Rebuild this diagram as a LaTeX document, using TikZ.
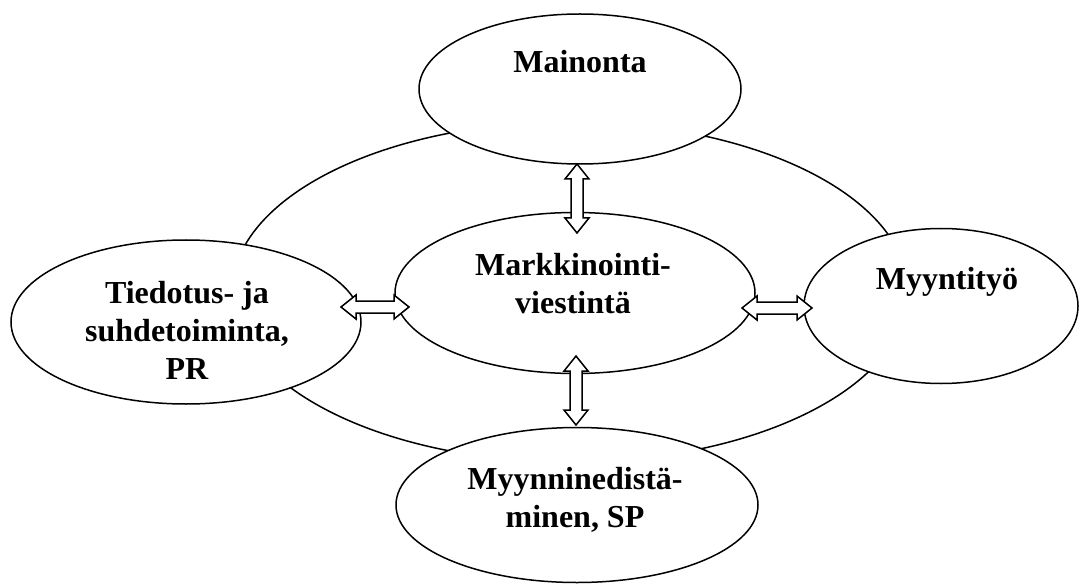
\documentclass[tikz,border=0pt]{standalone}
\usepackage{fontspec}
\setmainfont{Liberation Serif}
\usetikzlibrary{shapes.geometric,calc}
\tikzset{
  oval/.style={ellipse, draw, line width=1.5pt, fill=white, inner sep=0pt},
  lbl/.style={font=\fontsize{32}{38}\selectfont\bfseries, align=center, inner sep=0pt},
  hollow/.style={draw, line width=1.5pt, fill=white, line join=miter},
}
\newcommand\hollowarrow[2]{%
  \draw[hollow] (#1)
    -- ($(#1)!15pt!(#2)!12pt!90:(#2)$)
    -- ($(#1)!15pt!(#2)!6pt!90:(#2)$)
    -- ($(#2)!15pt!(#1)!6pt!-90:(#1)$)
    -- ($(#2)!15pt!(#1)!12pt!-90:(#1)$)
    -- (#2)
    -- ($(#2)!15pt!(#1)!12pt!90:(#1)$)
    -- ($(#2)!15pt!(#1)!6pt!90:(#1)$)
    -- ($(#1)!15pt!(#2)!6pt!-90:(#2)$)
    -- ($(#1)!15pt!(#2)!12pt!-90:(#2)$)
    -- cycle;}
\begin{document}
\begin{tikzpicture}[x=1pt,y=-1pt]
\useasboundingbox (0,0) rectangle (1083,585);
% outer ring
\node[oval, minimum width=676pt, minimum height=340pt] (ring) at (570,292) {};
% satellite and centre ellipses
\node[oval, minimum width=322pt, minimum height=150pt] (mainonta) at (580,89) {};
\node[oval, minimum width=360pt, minimum height=161pt] (centre) at (575,293) {};
\node[oval, minimum width=350pt, minimum height=164pt] (pr) at (186,322) {};
\node[oval, minimum width=274pt, minimum height=155pt] (myynti) at (941,306) {};
\node[oval, minimum width=362pt, minimum height=155pt] (sp) at (577,505) {};
% arrow end points
\coordinate (ta) at (577,164); \coordinate (tb) at (577,233);
\coordinate (ba) at (576,356); \coordinate (bb) at (576,425);
\coordinate (la) at (341,307); \coordinate (lb) at (409,307);
\coordinate (ra) at (742,308); \coordinate (rb) at (812,308);
\hollowarrow{ta}{tb}
\hollowarrow{ba}{bb}
\hollowarrow{la}{lb}
\hollowarrow{ra}{rb}
% texts
\node[lbl, anchor=base] (t1) at (580,73) {Mainonta};
\node[lbl, anchor=base] (t2) at (947,289) {Myyntityö};
\node[lbl] (t3) at (187,330) {Tiedotus- ja\\suhdetoiminta,\\PR};
\node[lbl] (t4) at (573,284) {Markkinointi-\\viestintä};
\node[lbl] (t5) at (575,500) {Myynninedistä-\\minen, SP};
\end{tikzpicture}
\end{document}
